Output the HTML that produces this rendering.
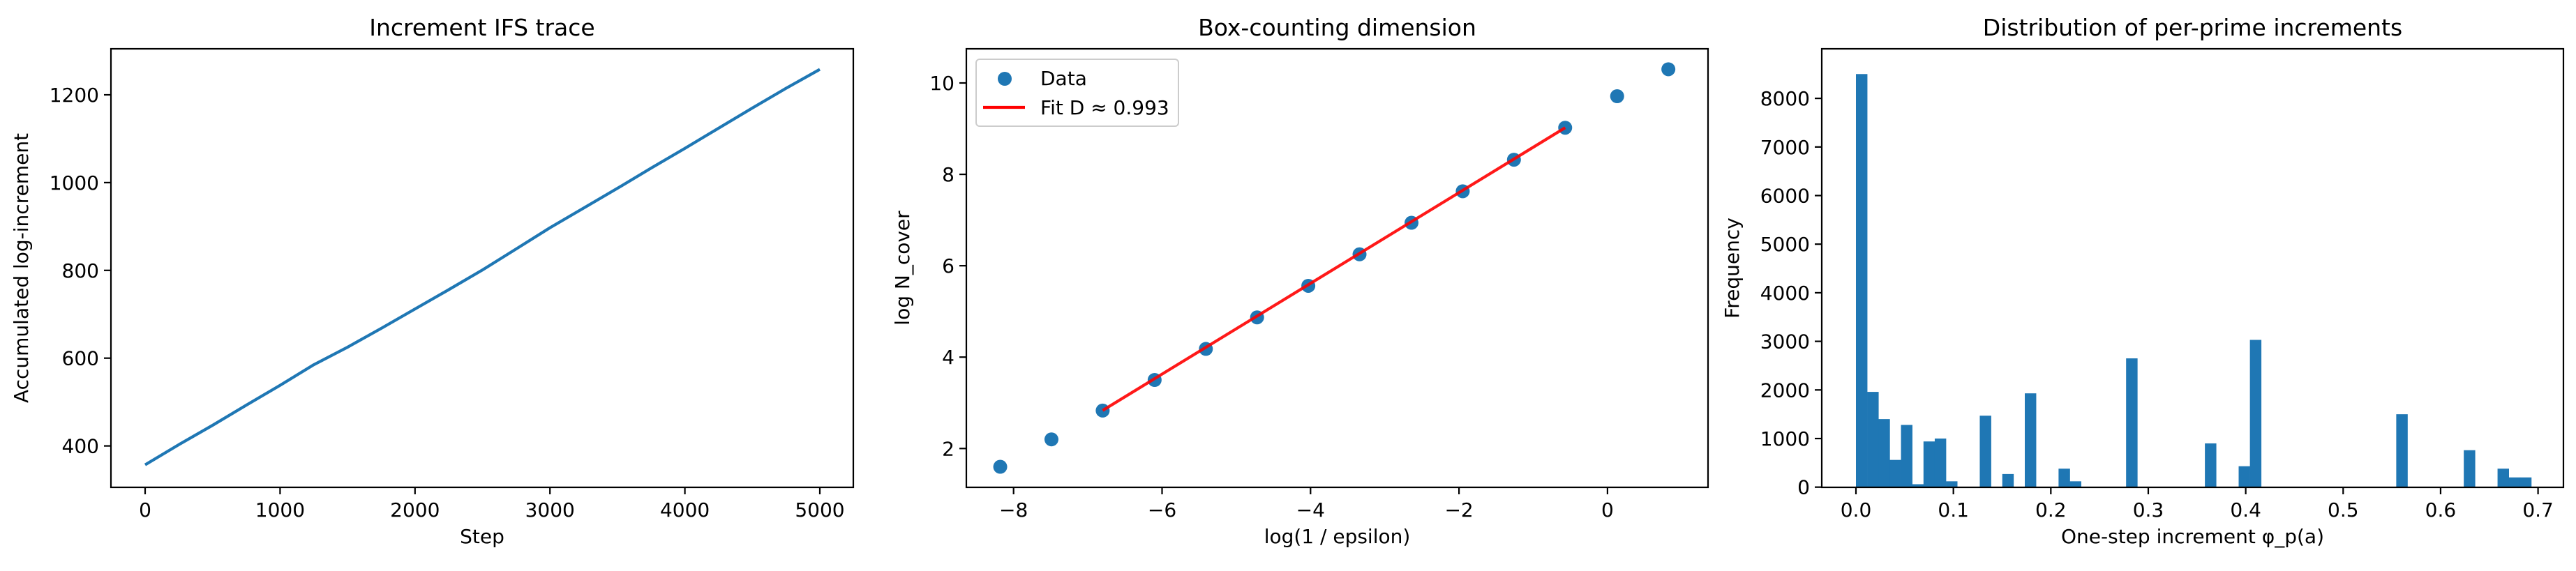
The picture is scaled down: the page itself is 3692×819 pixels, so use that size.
<!DOCTYPE html>
<html><head><meta charset="utf-8"><style>
html,body{margin:0;padding:0;background:#fff}
svg{display:block}
text{font-family:"DejaVu Sans","Liberation Sans",sans-serif;fill:#000}
</style></head><body>
<svg id="fig" width="3692" height="819" viewBox="0 0 3692 819" xmlns="http://www.w3.org/2000/svg"></svg>
<script>
// ---- Panel 1 data ----
const traceSteps = [0,250,500,750,1000,1250,1500,1750,2000,2250,2500,2750,3000,3250,3500,3750,4000,4250,4500,4750,5000];
const traceValues = [357,403,447,493,538,585,625,668,712,756,801,849,897,942,987,1033,1078,1124,1170,1215,1258];
const p1XTicks = [0,1000,2000,3000,4000,5000];
const p1YTicks = [400,600,800,1000,1200];
// ---- Panel 2 data ----
const boxX = [-8.18,-7.49,-6.80,-6.10,-5.41,-4.72,-4.03,-3.34,-2.64,-1.95,-1.26,-0.57,0.13,0.82];
const boxY = [1.60,2.20,2.83,3.50,4.18,4.87,5.56,6.25,6.94,7.63,8.32,9.02,9.71,10.30];
const fitRange = [-6.80,-0.57];
const fitSlope = [0.993];
const fitIntercept = [9.586];
const p2XTicks = [-8,-6,-4,-2,0];
const p2YTicks = [2,4,6,8,10];
// ---- Panel 3 data ----
const histCounts = [8500,1960,1400,560,1280,60,940,1000,120,0,0,1470,0,270,0,1930,0,0,380,120,0,0,0,0,2650,0,0,0,0,0,0,900,0,0,430,3030,0,0,0,0,0,0,0,0,0,0,0,0,1500,0,0,0,0,0,760,0,0,380,200,200];
const histMin = [0];
const histMax = [0.6931];
const p3XTicks = [0,0.1,0.2,0.3,0.4,0.5,0.6,0.7];
const p3XLabels = ["0.0","0.1","0.2","0.3","0.4","0.5","0.6","0.7"];
const p3YTicks = [0,1000,2000,3000,4000,5000,6000,7000,8000];

const NS="http://www.w3.org/2000/svg";
const svg=document.getElementById('fig');
function mk(tag,attrs,parent,txt){const e=document.createElementNS(NS,tag);for(const k in attrs)e.setAttribute(k,attrs[k]);if(txt!==undefined)e.textContent=txt;(parent||svg).appendChild(e);return e;}
function lin(d0,d1,r0,r1){return v=>r0+(v-d0)*(r1-r0)/(d1-d0);}
const TOP=70,BOT=699;

function axes(g,L,R,sx,sy,xt,xl,yt,yl,title,xlabel,ylabel,ylabX){
  const fr=mk('rect',{x:L,y:TOP,width:R-L,height:BOT-TOP,fill:'none',stroke:'#000','stroke-width':2.2},g);
  
  
  xt.forEach((v,i)=>{const x=sx(v);
    const t=mk('line',{x1:x,x2:x,y1:BOT,y2:BOT+10,stroke:'#000','stroke-width':2.2},g);
    
    
    const l=mk('text',{x:x,y:BOT+42,'text-anchor':'middle','font-size':28},g,xl[i]);
    
    
  });
  yt.forEach((v,i)=>{const y=sy(v);
    const t=mk('line',{x1:L-10,x2:L,y1:y,y2:y,stroke:'#000','stroke-width':2.2},g);
    
    
    const l=mk('text',{x:L-17,y:y+10,'text-anchor':'end','font-size':28},g,yl[i]);
    
    
  });
  const t=mk('text',{x:(L+R)/2,y:51,'text-anchor':'middle','font-size':33},g,title);
  
  
  const xa=mk('text',{x:(L+R)/2,y:779,'text-anchor':'middle','font-size':28},g,xlabel);
  
  
  const ya=mk('text',{x:ylabX,y:(TOP+BOT)/2,'text-anchor':'middle','font-size':28,transform:`rotate(-90 ${ylabX} ${(TOP+BOT)/2})`},g,ylabel);
  
  
}

// Panel 1
{
  const g=mk('g',{});
  
  
  const L=159,R=1223;
  const sx=lin(0,5000,208,1175), sy=lin(400,1200,639.6,136);
  const d=traceSteps.map((s,i)=>(i?'L':'M')+sx(s).toFixed(1)+','+sy(traceValues[i]).toFixed(1)).join(' ');
  const p=mk('path',{d:d,fill:'none',stroke:'#1f77b4','stroke-width':4.2,'stroke-linejoin':'round'},g);
  
  
  axes(g,L,R,sx,sy,p1XTicks,p1XTicks.map(String),p1YTicks,p1YTicks.map(String),'Increment IFS trace','Step','Accumulated log-increment',40);
}
// Panel 2
{
  const g=mk('g',{});
  
  
  const L=1385,R=2448;
  const sx=lin(-8,0,1452.7,2303.9), sy=lin(2,10,643.3,119);
  boxX.forEach((x,i)=>{
    const c=mk('circle',{cx:sx(x),cy:sy(boxY[i]),r:10,fill:'#1f77b4'},g);
    
    
  });
  const f=v=>fitSlope[0]*v+fitIntercept[0];
  const ln=mk('line',{x1:sx(fitRange[0]),y1:sy(f(fitRange[0])),x2:sx(fitRange[1]),y2:sy(f(fitRange[1])),stroke:'#ff0000','stroke-width':4.2,'stroke-opacity':0.9},g);
  
  
  const minus=v=>v<0?'\u2212'+Math.abs(v):String(v);
  axes(g,L,R,sx,sy,p2XTicks,p2XTicks.map(minus),p2YTicks,p2YTicks.map(String),'Box-counting dimension','log(1 / epsilon)','log N_cover',1303);
  const lg=mk('g',{},g);
  
  
  mk('rect',{x:1399,y:85,width:290,height:96,rx:5,fill:'#fff','fill-opacity':0.8,stroke:'#ccc','stroke-width':2},lg);
  const e1=mk('circle',{cx:1440,cy:113,r:10,fill:'#1f77b4'},lg);
  
  
  const t1=mk('text',{x:1491,y:122,'font-size':28},lg,'Data');
  
  
  const e2=mk('line',{x1:1409,x2:1469,y1:154,y2:154,stroke:'#ff0000','stroke-width':4.2},lg);
  
  
  const t2=mk('text',{x:1491,y:164,'font-size':28},lg,'Fit D \u2248 0.993');
  
  
}
// Panel 3
{
  const g=mk('g',{});
  
  
  const L=2611,R=3674;
  const sx=lin(0,0.7,2660,3637.6), sy=lin(0,1000,698.7,629);
  const n=histCounts.length, w=(histMax[0]-histMin[0])/n;
  histCounts.forEach((c,i)=>{
    if(c<=0)return;
    const x0=sx(histMin[0]+i*w), x1=sx(histMin[0]+(i+1)*w);
    const r=mk('rect',{x:x0,y:sy(c),width:x1-x0+0.3,height:sy(0)-sy(c),fill:'#1f77b4'},g);
    
    
  });
  axes(g,L,R,sx,sy,p3XTicks,p3XLabels,p3YTicks,p3YTicks.map(String),'Distribution of per-prime increments','One-step increment \u03c6_p(a)','Frequency',2492);
}
</script>
</body></html>
